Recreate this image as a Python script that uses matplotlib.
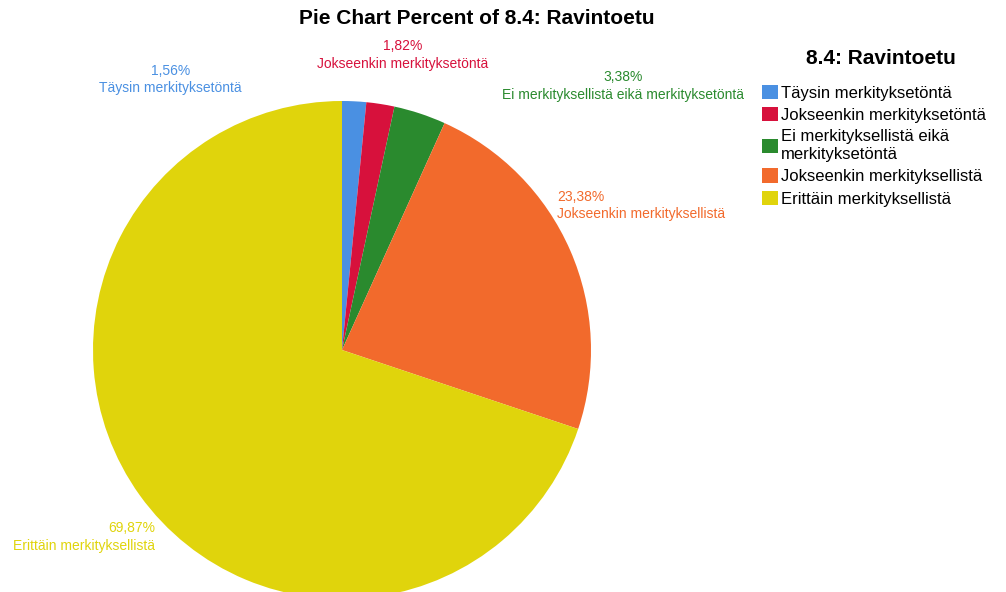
import numpy as np
import matplotlib.pyplot as plt
from matplotlib.patches import Patch

plt.rcParams['font.family'] = ['Liberation Sans', 'DejaVu Sans']

# data for the pie
categories = ['Täysin merkityksetöntä', 'Jokseenkin merkityksetöntä',
              'Ei merkityksellistä eikä merkityksetöntä',
              'Jokseenkin merkityksellistä', 'Erittäin merkityksellistä']
legend_labels = ['Täysin merkityksetöntä', 'Jokseenkin merkityksetöntä',
                 'Ei merkityksellistä eikä\nmerkityksetöntä',
                 'Jokseenkin merkityksellistä', 'Erittäin merkityksellistä']
percents = [1.56, 1.82, 3.38, 23.38, 69.87]
colors = ['#4a90e2', '#d7113c', '#2a8a2e', '#f26a2c', '#e0d40c']

# label placement (data coords of the pie axes, radius 1) and alignment
label_pos = [(-0.69, 1.085), (0.245, 1.185), (1.128, 1.06), (0.863, 0.58), (-0.751, -0.751)]
label_ha = ['center', 'center', 'center', 'left', 'right']

W, H = 1006, 592
fig = plt.figure(figsize=(W / 100, H / 100), dpi=100)

# pie centre and radius in pixels
cx, cy, r = 342, 350, 249
ax = fig.add_axes([(cx - r) / W, (H - cy - r) / H, 2 * r / W, 2 * r / H])
ax.pie(percents, colors=colors, startangle=90, counterclock=False, radius=1,
       wedgeprops=dict(linewidth=0))
ax.set_xlim(-1, 1)
ax.set_ylim(-1, 1)
ax.set_aspect('equal')
ax.axis('off')

for name, pct, col, (x, y), ha in zip(categories, percents, colors, label_pos, label_ha):
    txt = f'{pct:.2f}'.replace('.', ',') + '%\n' + name
    ax.text(x, y, txt, color=col, fontsize=10, ha=ha, va='center',
            multialignment=ha, linespacing=1.3, clip_on=False)

fig.text(477 / W, 1 - 19 / H, 'Pie Chart Percent of 8.4: Ravintoetu',
         fontsize=15, fontweight='bold', ha='center', va='center')

# legend title drawn separately to get the gap above the entries
fig.text(881 / W, 1 - 58 / H, '8.4: Ravintoetu', fontsize=15,
         fontweight='bold', ha='center', va='center')

handles = [Patch(facecolor=c, edgecolor='none') for c in colors]
leg = fig.legend(handles, legend_labels, loc='upper left',
                 bbox_to_anchor=(750 / W, 1 - 73 / H), frameon=False,
                 fontsize=12, handlelength=0.95, handleheight=0.95,
                 handletextpad=0.2, labelspacing=0.38, borderpad=0.2)
for t in leg.get_texts():
    t.set_linespacing(1.25)

fig.savefig('out.png', dpi=100)
